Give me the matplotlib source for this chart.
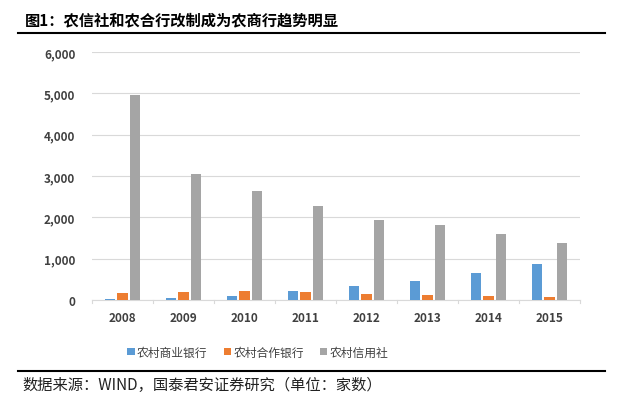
import matplotlib
matplotlib.use("Agg")
from matplotlib import pyplot as plt
import numpy as np

plt.rcParams['font.family'] = ['Noto Sans CJK SC', 'DejaVu Sans']

years = ['2008', '2009', '2010', '2011', '2012', '2013', '2014', '2015']
rural_commercial = [22, 43, 85, 212, 337, 468, 665, 859]
rural_cooperative = [163, 196, 223, 190, 147, 122, 89, 71]
rural_credit = [4965, 3056, 2646, 2265, 1927, 1803, 1596, 1373]
series_names = ['农村商业银行', '农村合作银行', '农村信用社']
colors = ['#5b9bd5', '#ed7d31', '#a5a5a5']

fig = plt.figure(figsize=(6.4, 4.02), dpi=100)
ax = fig.add_axes([92/640, 1-301/402, 488/640, 248/402])

x = np.arange(len(years))
w = 0.165
step = 0.205
for i, (vals, name, c) in enumerate(zip([rural_commercial, rural_cooperative, rural_credit], series_names, colors)):
    ax.bar(x + (i-1)*step, vals, w, color=c, label=name, zorder=3)

ax.set_xlim(-0.5, len(years)-0.5)
ax.set_ylim(0, 6000)
ax.set_yticks(range(0, 6001, 1000))
ax.set_yticklabels(['{:,}'.format(v) for v in range(0, 6001, 1000)])
ax.set_xticks(x)
ax.set_xticklabels(years)
ax.grid(axis='y', color='#d9d9d9', lw=0.8, zorder=0)
for s in ['top', 'right', 'left']:
    ax.spines[s].set_visible(False)
ax.spines['bottom'].set_color('#d9d9d9')
ax.tick_params(axis='y', length=0, pad=12, labelsize=8.5, labelcolor='#404040')
ax.tick_params(axis='x', length=0, pad=8, labelsize=8.5, labelcolor='#404040')
for b in np.arange(-0.5, len(years), 1.0):
    ax.plot([b, b], [0, -80], color='#d9d9d9', lw=0.8, clip_on=False)
for lab in ax.get_xticklabels() + ax.get_yticklabels():
    lab.set_fontweight('bold')

leg = ax.legend(loc='center', bbox_to_anchor=(258/640, 1-353/402), bbox_transform=fig.transFigure,
                ncol=3, frameon=False, fontsize=8.5, handlelength=0.6, handleheight=0.6,
                handletextpad=0.2, columnspacing=1.4)
for t in leg.get_texts():
    t.set_color('#404040')

fig.text(25/640, 1-20/402, '图1：农信社和农合行改制成为农商行趋势明显', fontsize=11,
         fontweight='bold', va='center', ha='left')
fig.add_artist(plt.Line2D([18/640, 605/640], [1-34/402]*2, color='black', lw=1.5))
fig.add_artist(plt.Line2D([18/640, 605/640], [1-372/402]*2, color='black', lw=1.5))
fig.text(22/640, 1-385/402, '数据来源：WIND，国泰君安证券研究（单位：家数）', fontsize=11,
         va='center', ha='left', color='#222222')

fig.savefig('out.png', dpi=100)
